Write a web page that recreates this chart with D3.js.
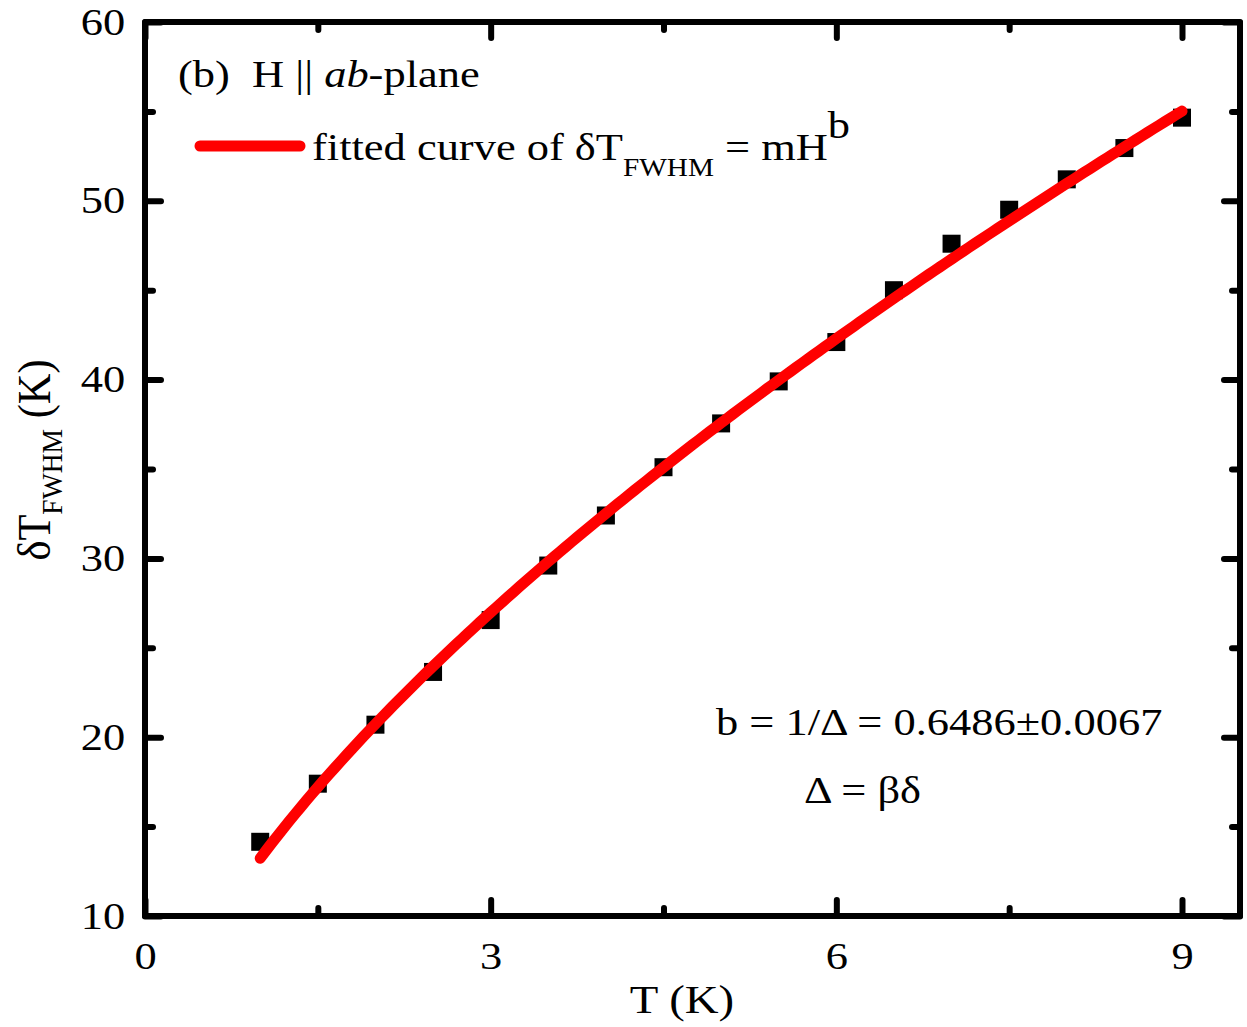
<!DOCTYPE html>
<html>
<head>
<meta charset="utf-8">
<script src="https://cdn.jsdelivr.net/npm/d3@7"></script>
<style>
  html, body { margin: 0; padding: 0; background: #fff; }
  svg { display: block; }
  text { font-family: "Liberation Serif", "Times New Roman", serif; fill: #000; }
</style>
</head>
<body>
<svg id="chart" width="1247" height="1027"></svg>
<script>
// Field values (T) and measured FWHM transition widths
const fieldValues = [1, 1.5, 2, 2.5, 3, 3.5, 4, 4.5, 5, 5.5, 6, 6.5, 7, 7.5, 8, 8.5, 9];
const widthValues = [14.15, 17.4, 20.7, 23.65, 26.55, 29.6, 32.4, 35.1, 37.55, 39.9, 42.1, 45.0, 47.6, 49.5, 51.2, 52.95, 54.65];

// Power-law fit δT = m·H^b
const fitM = 13.23;
const fitB = 0.6486;

const xTicksMajor = [0, 3, 6, 9];
const xTicksMinor = [1.5, 4.5, 7.5];
const yTicksMajor = [10, 20, 30, 40, 50, 60];
const yTicksMinor = [15, 25, 35, 45, 55];

const svg = d3.select("#chart");
const L = 145, R = 1240, T = 22, B = 916;
const SX = 1.17; // wide glyph proportions used for all lettering

const x = d3.scaleLinear().domain([0, 9.5]).range([L, L + (1182 - L) / 9 * 9.5]);
const y = d3.scaleLinear().domain([10, 60]).range([B, T]);

// Text placed at (px, py) with widened glyphs
function label(px, py, size, anchor) {
  return svg.append("g")
    .attr("transform", `translate(${px},${py}) scale(${SX},1)`)
    .append("text")
    .attr("font-size", size)
    .attr("text-anchor", anchor || "start")
    .attr("xml:space", "preserve");
}

// Fitted curve
const curveX = d3.range(1, 9.0001, 0.05);
const line = d3.line().x(d => x(d)).y(d => y(fitM * Math.pow(d, fitB)));

// Data squares
const sq = 18;
svg.append("g").selectAll("rect").data(fieldValues).join("rect")
  .attr("x", (d) => x(d) - sq / 2)
  .attr("y", (d, i) => y(widthValues[i]) - sq / 2)
  .attr("width", sq).attr("height", sq)
  .attr("fill", "#000");

svg.append("path").datum(curveX)
  .attr("d", line)
  .attr("fill", "none")
  .attr("stroke", "#ff0000")
  .attr("stroke-width", 11)
  .attr("stroke-linecap", "round")
  .attr("stroke-linejoin", "round");

// Axes with inward ticks on all four sides
const tickStyle = g => {
  g.select(".domain").remove();
  g.selectAll(".tick line").attr("stroke", "#000").attr("stroke-width", 6).attr("stroke-linecap", "round");
};
const bigFont = 38;

const xb = svg.append("g").attr("transform", `translate(0,${B})`)
  .call(d3.axisBottom(x).tickValues(xTicksMajor).tickSize(-16).tickPadding(26).tickFormat(d3.format("d")));
xb.call(tickStyle);
xb.selectAll(".tick text").attr("font-size", bigFont).attr("font-family", "Liberation Serif")
  .attr("dy", "0.71em").attr("transform", `scale(${SX},1)`);
svg.append("g").attr("transform", `translate(0,${B})`)
  .call(d3.axisBottom(x).tickValues(xTicksMinor).tickSize(-8).tickFormat(""))
  .call(tickStyle);

svg.append("g").attr("transform", `translate(0,${T})`)
  .call(d3.axisTop(x).tickValues(xTicksMajor).tickSize(-16).tickFormat(""))
  .call(tickStyle);
svg.append("g").attr("transform", `translate(0,${T})`)
  .call(d3.axisTop(x).tickValues(xTicksMinor).tickSize(-8).tickFormat(""))
  .call(tickStyle);

const yl = svg.append("g").attr("transform", `translate(${L},0)`)
  .call(d3.axisLeft(y).tickValues(yTicksMajor).tickSize(-16).tickPadding(17).tickFormat(d3.format("d")));
yl.call(tickStyle);
yl.selectAll(".tick text").attr("font-size", bigFont).attr("font-family", "Liberation Serif")
  .attr("dy", "0.32em").attr("transform", `scale(${SX},1)`);
svg.append("g").attr("transform", `translate(${L},0)`)
  .call(d3.axisLeft(y).tickValues(yTicksMinor).tickSize(-8).tickFormat(""))
  .call(tickStyle);

svg.append("g").attr("transform", `translate(${R},0)`)
  .call(d3.axisRight(y).tickValues(yTicksMajor).tickSize(-16).tickFormat(""))
  .call(tickStyle);
svg.append("g").attr("transform", `translate(${R},0)`)
  .call(d3.axisRight(y).tickValues(yTicksMinor).tickSize(-8).tickFormat(""))
  .call(tickStyle);

// Frame
svg.append("rect")
  .attr("x", L).attr("y", T).attr("width", R - L).attr("height", B - T)
  .attr("fill", "none").attr("stroke", "#000").attr("stroke-width", 6)
  .attr("stroke-linejoin", "round");

// Axis titles
label(682, 1013, 40, "middle").text("T (K)");

const ylab = svg.append("g")
  .attr("transform", "translate(50,460) rotate(-90) scale(1.06,1.15)")
  .append("text").attr("text-anchor", "middle").attr("font-size", 40);
ylab.append("tspan").text("δT");
ylab.append("tspan").attr("font-size", 26).attr("dy", 10).text("FWHM");
ylab.append("tspan").attr("dy", -10).text(" (K)");

// Panel label
const panel = label(178, 87, 38);
panel.append("tspan").text("(b)\u00a0\u00a0H || ");
panel.append("tspan").attr("font-style", "italic").text("ab");
panel.append("tspan").text("-plane");

// Legend
svg.append("line").attr("x1", 200).attr("x2", 300).attr("y1", 146).attr("y2", 146)
  .attr("stroke", "#ff0000").attr("stroke-width", 11).attr("stroke-linecap", "round");
const leg = label(312, 160, 38);
leg.append("tspan").text("fitted curve of δT");
leg.append("tspan").attr("font-size", 25).attr("dy", 16).text("FWHM");
leg.append("tspan").attr("dy", -16).text(" = mH");
leg.append("tspan").attr("dy", -22).text("b");

// Fit parameters
label(716, 735, 38).text("b = 1/Δ = 0.6486±0.0067");
label(804, 803, 38).text("Δ = βδ");
</script>
</body>
</html>
